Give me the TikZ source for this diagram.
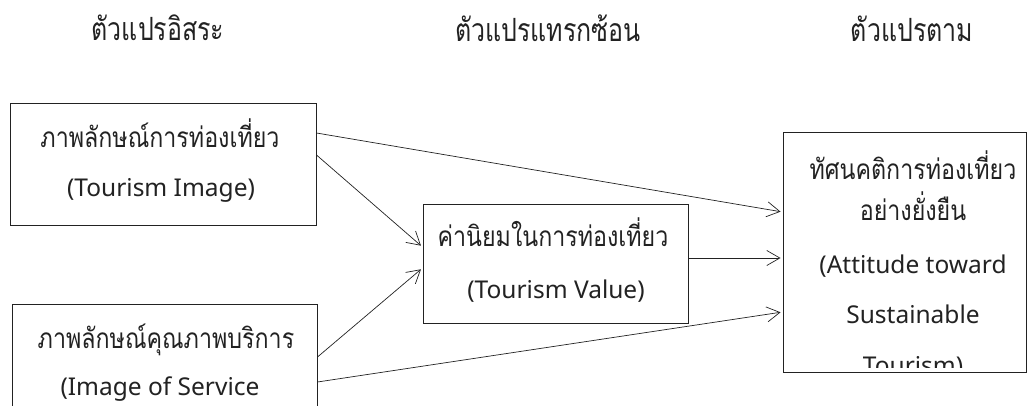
\documentclass[tikz,border=0pt]{standalone}
\usepackage{fontspec}
\setmainfont{Noto Sans}
\newfontfamily\thaifont[Script=Thai,FakeStretch=0.83]{Loma}
\newfontfamily\thaihead[Script=Thai,FakeStretch=0.78]{Loma}
\usetikzlibrary{arrows.meta}
\definecolor{ink}{HTML}{222222}
\tikzset{
  box/.style={draw=ink, line width=1pt, inner sep=0pt, rectangle},
  thtxt/.style={font=\thaifont\fontsize{28}{28}\selectfont, anchor=base, inner sep=0pt, text=ink},
  lattxt/.style={font=\fontsize{24.5}{24.5}\selectfont, anchor=base, inner sep=0pt, text=ink},
  headtxt/.style={font=\thaihead\fontsize{32}{32}\selectfont, anchor=base, inner sep=0pt, text=ink},
  conn/.style={draw=ink, line width=0.7pt, -{Straight Barb[length=13pt,width=15pt,line width=0.7pt]}, shorten >=2pt}
}
\begin{document}
\begin{tikzpicture}[x=1pt,y=-1pt]
\useasboundingbox (0,0) rectangle (1028,406);
\clip (0,0) rectangle (1028,406);
% headers
\node[headtxt] (h1) at (158,41) {ตัวแปรอิสระ};
\node[headtxt] (h2) at (548,42) {ตัวแปรแทรกซ้อน};
\node[headtxt] (h3) at (912,42) {ตัวแปรตาม};
% boxes
\node[box, minimum width=306pt, minimum height=122pt] (b1) at (163,165) {};
\node[box, minimum width=305pt, minimum height=126pt] (b2) at (164.5,367) {};
\node[box, minimum width=265pt, minimum height=118pt] (bm) at (555.5,264) {};
\node[box, minimum width=243pt, minimum height=239pt] (br) at (904.5,252.5) {};
% box texts
\node[thtxt] (t1a) at (160,148) {ภาพลักษณ์การท่องเที่ยว};
\node[lattxt] (t1b) at (161,197) {(Tourism Image)};
\node[thtxt] (t2a) at (166,348) {ภาพลักษณ์คุณภาพบริการ};
\node[lattxt] (t2b) at (160,395) {(Image of Service};
\node[thtxt] (tma) at (553,247) {ค่านิยมในการท่องเที่ยว};
\node[lattxt] (tmb) at (556,298) {(Tourism Value)};
\begin{scope}
\clip (784,134) rectangle (1025,367);
\node[thtxt] (tra) at (913,180) {ทัศนคติการท่องเที่ยว};
\node[thtxt] (trb) at (913,221) {อย่างยั่งยืน};
\node[lattxt] (trc) at (913,273) {(Attitude toward};
\node[lattxt] (trd) at (913,323) {Sustainable};
\node[lattxt] (tre) at (913,374) {Tourism)};
\end{scope}
% connectors
\draw[conn] ([yshift=32pt]b1.east) -- ([yshift=40.5pt]br.west);
\draw[conn] ([yshift=10pt]b1.east) -- ([yshift=17pt]bm.west);
\draw[conn] ([yshift=10pt]b2.east) -- ([yshift=-4pt]bm.west);
\draw[conn] ([yshift=-15pt]b2.east) -- ([yshift=-59.5pt]br.west);
\draw[conn] ([yshift=6pt]bm.east) -- ([yshift=-5.5pt]br.west);
\end{tikzpicture}
\end{document}
